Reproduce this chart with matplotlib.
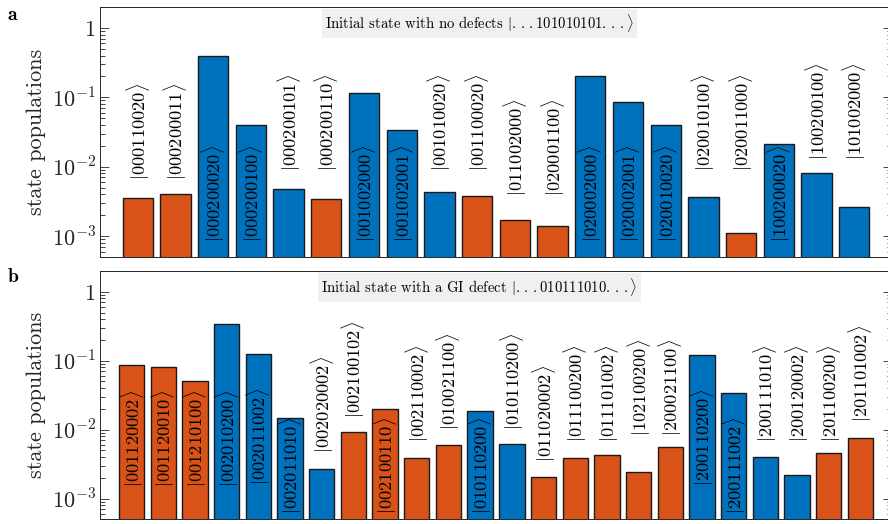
import numpy as np
import matplotlib
matplotlib.use("Agg")
import matplotlib.pyplot as plt
from matplotlib.transforms import offset_copy

plt.rcParams['font.family'] = 'serif'
plt.rcParams['font.serif'] = ['cmr10']
plt.rcParams['mathtext.fontset'] = 'cm'
plt.rcParams['axes.unicode_minus'] = False

# panel a: initial state with no defects
states_a = ['000110020', '000200011', '000200020', '000200100', '000200101',
            '000200110', '001002000', '001002001', '001010020', '001100020',
            '011002000', '020001100', '020002000', '020002001', '020010020',
            '020010100', '020011000', '100200020', '100200100', '101002000']
pop_a = [3.58e-3, 4.0e-3, 0.396, 0.0398, 4.83e-3,
         3.42e-3, 0.117, 0.0333, 4.37e-3, 3.82e-3,
         1.71e-3, 1.40e-3, 0.200, 0.0869, 0.0398,
         3.70e-3, 1.12e-3, 0.0211, 8.07e-3, 2.59e-3]
kind_a = ['o', 'o', 'b', 'b', 'b', 'o', 'b', 'b', 'b', 'o',
          'o', 'o', 'b', 'b', 'b', 'b', 'o', 'b', 'b', 'b']

# panel b: initial state with a GI defect
states_b = ['001120002', '001120010', '001210100', '002010200', '002011002',
            '002011010', '002020002', '002100102', '002100110', '002110002',
            '010021100', '010110200', '010110200', '011020002', '011100200',
            '011101002', '102100200', '200021100', '200110200', '200111002',
            '200111010', '200120002', '201100200', '201101002']
pop_b = [0.0855, 0.0807, 0.0506, 0.336, 0.126,
         0.0147, 2.69e-3, 9.23e-3, 0.0199, 3.93e-3,
         6.07e-3, 0.0188, 6.27e-3, 2.04e-3, 3.93e-3,
         4.28e-3, 2.40e-3, 5.67e-3, 0.1205, 0.0336,
         4.0e-3, 2.2e-3, 4.64e-3, 7.48e-3]
kind_b = ['o', 'o', 'o', 'b', 'b', 'b', 'b', 'o', 'o', 'o',
          'o', 'b', 'b', 'o', 'o', 'o', 'o', 'o', 'b', 'b',
          'b', 'b', 'o', 'o']

# where each ket label starts (bottom of rotated text)
lab_a = [7.1e-3, 7.1e-3, 9.0e-4, 9.0e-4, 9.45e-3, 9.45e-3, 9.0e-4, 9.0e-4, 9.45e-3, 9.45e-3,
         4.18e-3, 4.18e-3, 9.0e-4, 9.0e-4, 9.0e-4, 9.45e-3, 9.45e-3, 9.0e-4, 0.0139, 0.0139]
lab_b = [1.61e-3, 1.61e-3, 1.61e-3, 1.61e-3, 1.72e-3, 6.5e-4, 5.0e-3, 0.0163, 6.7e-4, 7.23e-3,
         0.0108, 6.6e-4, 0.0108, 3.71e-3, 7.23e-3, 7.3e-3, 9.05e-3, 9.05e-3, 1.66e-3, 6.6e-4,
         7.23e-3, 7.23e-3, 7.23e-3, 0.0144]

colors = {'b': '#0072BD', 'o': '#D95319'}
axcol = '#262626'
dots = r'.\,.\,.'


def panel(ax, states, pop, kind, labpos, title):
    x = np.arange(1, len(pop) + 1)
    ax.bar(x, pop, width=0.8, color=[colors[k] for k in kind],
           edgecolor='#1a1a1a', linewidth=1.0, zorder=2)
    # small downward nudge so the rotated text box sits like the original
    tr = offset_copy(ax.transData, fig=ax.figure, x=0, y=-3, units='dots')
    for xi, s, ly in zip(x, states, labpos):
        ax.text(xi, ly, r'$|' + s + r'\rangle$', rotation=90, ha='center',
                va='bottom', fontsize=13.3, zorder=3, transform=tr)
    ax.set_yscale('log')
    ax.set_ylim(5e-4, 2)
    ax.set_xlim(0, len(pop) + 1)
    ax.set_xticks([])
    ax.set_yticks([1e-3, 1e-2, 1e-1, 1])
    ax.set_yticklabels([r'$10^{-3}$', r'$10^{-2}$', r'$10^{-1}$', r'$1$'])
    ax.tick_params(axis='y', which='both', direction='in', left=True, right=True,
                   colors=axcol, labelcolor=axcol, labelsize=16, pad=3, width=0.6)
    ax.tick_params(axis='y', which='major', length=6.5)
    ax.tick_params(axis='y', which='minor', length=3.6)
    for sp in ax.spines.values():
        sp.set_color(axcol)
        sp.set_linewidth(0.7)
    ax.set_ylabel('state populations', fontsize=16, color=axcol, labelpad=4)
    ax.text(0.479, 0.935, title, transform=ax.transAxes, ha='center', va='center',
            fontsize=10.6, zorder=4,
            bbox=dict(facecolor='#f0f0f0', edgecolor='none', pad=2.5))


fig = plt.figure(figsize=(8.88, 5.24), dpi=100)
ax1 = fig.add_axes([100 / 888, 1 - 257 / 524, 792 / 888, 250 / 524])
ax2 = fig.add_axes([100 / 888, 1 - 519.3 / 524, 792 / 888, 248.3 / 524])

panel(ax1, states_a, pop_a, kind_a, lab_a,
      r'Initial state with no defects $|' + dots + r'101010101' + dots + r'\rangle$')
panel(ax2, states_b, pop_b, kind_b, lab_b,
      r'Initial state with a GI defect $|' + dots + r'010111010' + dots + r'\rangle$')

fig.text(13 / 888, 1 - 15 / 524, r'$\mathbf{a}$', fontsize=14, ha='center', va='center')
fig.text(13 / 888, 1 - 277 / 524, r'$\mathbf{b}$', fontsize=14, ha='center', va='center')

fig.savefig('out.png', dpi=100)
